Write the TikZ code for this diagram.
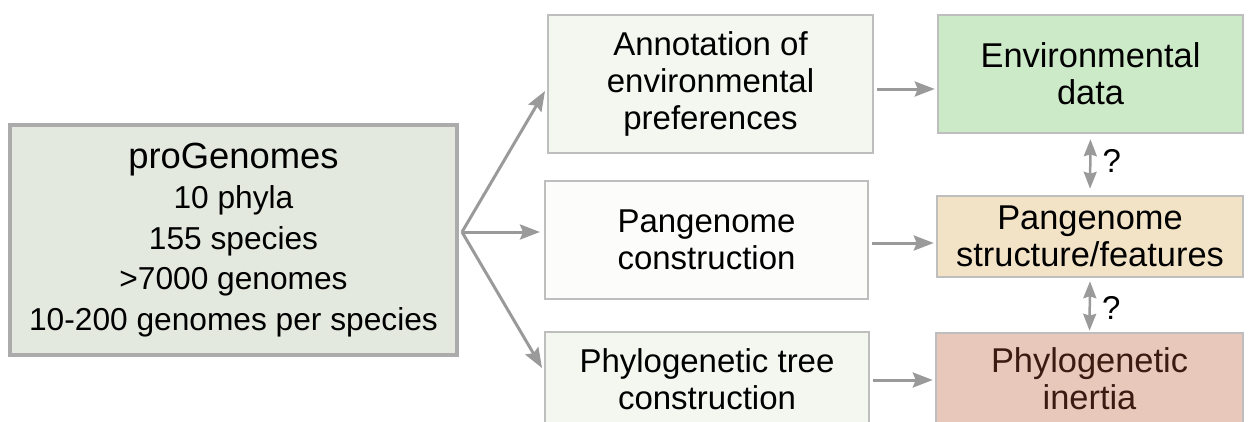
\documentclass[tikz,border=0pt]{standalone}
\usepackage{fontspec}
\setmainfont{Liberation Sans}
\usetikzlibrary{arrows.meta}

\definecolor{boxline}{HTML}{BEBEBE}
\definecolor{arrowgray}{HTML}{9A9A9A}
\definecolor{progfill}{HTML}{E4E9DF}
\definecolor{stepfill}{HTML}{F4F7F0}
\definecolor{panfill}{HTML}{FCFCFA}
\definecolor{envfill}{HTML}{CDEAC8}
\definecolor{pgsfill}{HTML}{F3E3C6}
\definecolor{inertfill}{HTML}{E8C8BB}
\definecolor{inerttext}{HTML}{3B1A12}

\begin{document}
\begin{tikzpicture}[x=1pt,y=-1pt,
  box/.style={draw=boxline,line width=2.5pt,align=center,inner sep=0pt,
    font=\fontsize{33}{37}\selectfont},
  result/.style={box,font=\fontsize{34.4}{37}\selectfont},
  link/.style={draw=arrowgray,line width=3pt,-{Stealth[length=20pt,width=15pt,inset=3pt]}},
  qlink/.style={draw=arrowgray,line width=2.5pt,
    {Stealth[length=17pt,width=13pt,inset=2pt]}-{Stealth[length=17pt,width=13pt,inset=2pt]}}]
  \useasboundingbox (0,0) rectangle (1249,421);
  \clip (0,0) rectangle (1249,421);

  % Source data
  \node[box,fill=progfill,draw=boxline!90!black,line width=3.5pt,minimum width=447pt,minimum height=230pt,
    font=\fontsize{31.7}{40.5}\selectfont] (prog) at (233.5,240)
    {{\fontsize{36.4}{41}\selectfont proGenomes}\\ 10 phyla\\ 155 species\\ >7000 genomes\\ 10-200 genomes per species};

  % Processing steps
  \node[box,fill=stepfill,minimum width=325pt,minimum height=138pt] (annot) at (710.5,84)
    {Annotation of\\ environmental\\ preferences};
  \node[box,fill=panfill,minimum width=323pt,minimum height=118pt] (pan) at (706.5,240)
    {Pangenome\\ construction};
  \node[box,fill=stepfill,minimum width=324pt,minimum height=94pt] (tree) at (707,379)
    {Phylogenetic tree\\ construction};

  % Results
  \node[result,fill=envfill,minimum width=305pt,minimum height=118pt] (env) at (1090.5,74)
    {Environmental\\ data};
  \node[result,fill=pgsfill,minimum width=306pt,minimum height=81pt] (pgs) at (1090,236.5)
    {Pangenome\\ structure/features};
  \node[result,fill=inertfill,text=inerttext,minimum width=307pt,minimum height=92pt] (inert) at (1089.5,379)
    {Phylogenetic\\ inertia};

  % Fan out of the source box
  \coordinate (fork) at (462,232);
  \coordinate (t1) at (545,91);
  \coordinate (t2) at (540,232);
  \coordinate (t3) at (542,368);
  \draw[link] (fork) -- (t1);
  \draw[link] (fork) -- (t2);
  \draw[link] (fork) -- (t3);

  % Step to result
  \coordinate (r1) at (0,89);
  \coordinate (r2) at (0,243);
  \coordinate (r3) at (0,380);
  \draw[link,shorten <=3pt,shorten >=2pt] (annot.east |- r1) -- (env.west |- r1);
  \draw[link,shorten <=3pt,shorten >=2pt] (pan.east |- r2) -- (pgs.west |- r2);
  \draw[link,shorten <=3pt,shorten >=2pt] (tree.east |- r3) -- (inert.west |- r3);

  % Open relations
  \draw[qlink,shorten <=5pt,shorten >=6pt] (env.south) -- node[midway,right=11pt,inner sep=0pt,
    font=\fontsize{33}{35}\selectfont,yshift=4pt] {?} (pgs.north);
  \draw[qlink,shorten <=3pt,shorten >=1pt] (pgs.south) -- node[midway,right=11pt,inner sep=0pt,
    font=\fontsize{33}{35}\selectfont,yshift=-3pt] {?} (inert.north);
\end{tikzpicture}
\end{document}
